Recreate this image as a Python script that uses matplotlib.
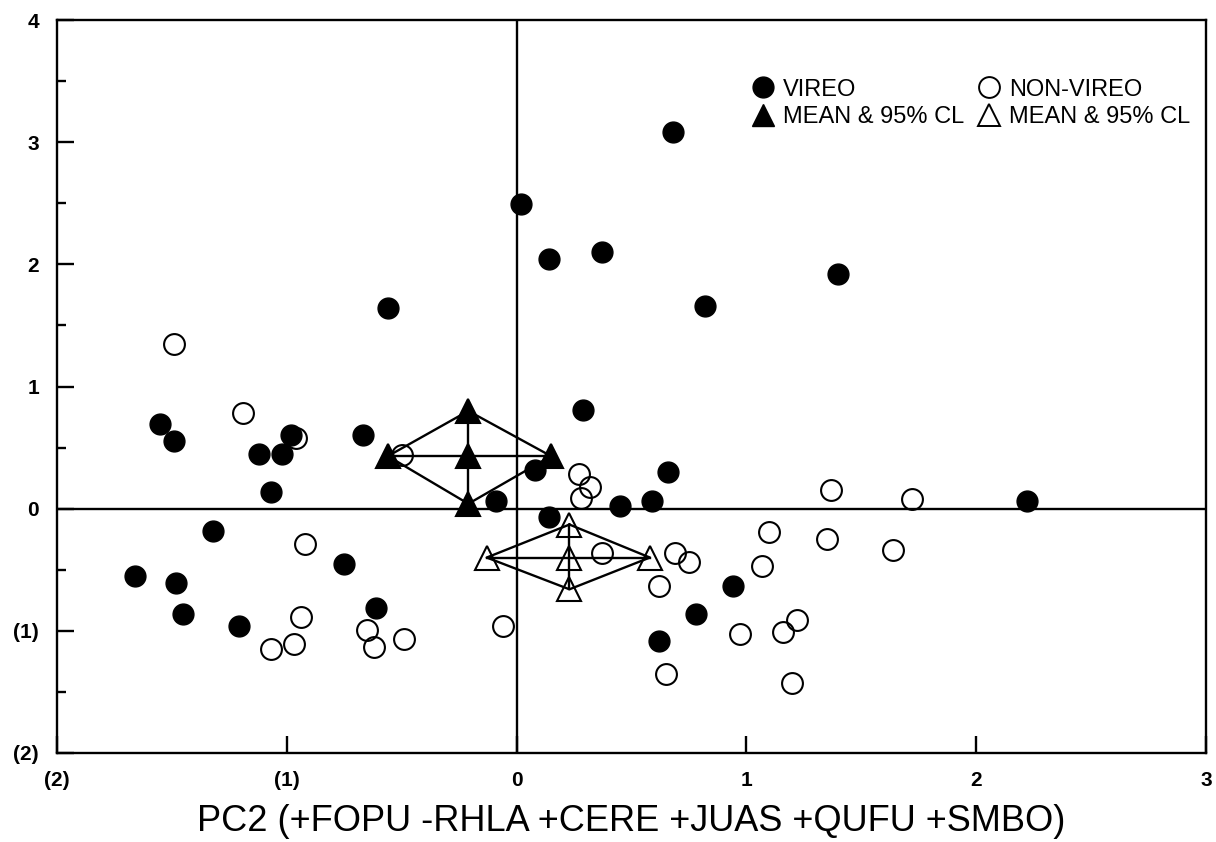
import matplotlib
matplotlib.use("Agg")
import matplotlib.pyplot as plt
from matplotlib.lines import Line2D
import numpy as np

plt.rcParams['font.family'] = ['Liberation Sans', 'DejaVu Sans']

# VIREO sites (filled circles)
vireo_x = [0.68, 0.02, 0.14, 0.37, 1.40, 0.82, -0.56, 0.29, -1.55, -1.49,
           -1.12, -1.02, -0.98, -0.67, -1.07, -1.32, -0.75, -1.66, -1.48, -1.45,
           -1.21, -0.61, -0.09, 0.08, 0.14, 0.45, 0.59, 0.66, 0.94, 0.78,
           0.62, 2.22]
vireo_y = [3.08, 2.49, 2.04, 2.10, 1.92, 1.66, 1.64, 0.81, 0.69, 0.55,
           0.45, 0.45, 0.60, 0.60, 0.14, -0.18, -0.45, -0.55, -0.61, -0.86,
           -0.96, -0.81, 0.06, 0.32, -0.07, 0.02, 0.06, 0.30, -0.63, -0.86,
           -1.08, 0.06]

# NON-VIREO sites (open circles)
non_x = [-1.49, -1.19, -0.96, -0.92, -0.94, -1.07, -0.97, -0.65, -0.62, -0.49,
         -0.06, -0.50, 0.27, 0.32, 0.28, 0.37, 0.69, 0.75, 0.62, 0.65,
         1.10, 1.07, 0.97, 1.16, 1.22, 1.20, 1.37, 1.72, 1.35, 1.64]
non_y = [1.35, 0.78, 0.58, -0.29, -0.89, -1.15, -1.11, -0.99, -1.13, -1.07,
         -0.96, 0.44, 0.28, 0.18, 0.09, -0.36, -0.36, -0.44, -0.63, -1.35,
         -0.19, -0.47, -1.03, -1.01, -0.91, -1.43, 0.15, 0.08, -0.25, -0.34]

# Means and 95% confidence limits
vireo_mean = (-0.21, 0.43)
vireo_cl_x = (-0.56, 0.15)
vireo_cl_y = (0.04, 0.80)
non_mean = (0.23, -0.40)
non_cl_x = (-0.13, 0.58)
non_cl_y = (-0.66, -0.13)

xticks = [-2, -1, 0, 1, 2, 3]
xticklabels = ['(2)', '(1)', '0', '1', '2', '3']
yticks = [-2, -1, 0, 1, 2, 3, 4]
yticklabels = ['(2)', '(1)', '0', '1', '2', '3', '4']

fig = plt.figure(figsize=(12.16, 8.42), dpi=100)
ax = fig.add_axes([57/1216, 1-753/842, (1206-57)/1216, (753-20)/842])
ax.set_xlim(-2, 3)
ax.set_ylim(-2, 4)

for s in ax.spines.values():
    s.set_linewidth(1.7)

ax.axhline(0, color='black', lw=1.7, zorder=1)
ax.axvline(0, color='black', lw=1.7, zorder=1)


def diamond(mean, clx, cly, mfc):
    mx, my = mean
    dx = [mx, clx[1], mx, clx[0], mx]
    dy = [cly[1], my, cly[0], my, cly[1]]
    ax.plot(dx, dy, color='black', lw=1.7, zorder=2)
    ax.plot([clx[0], clx[1]], [my, my], color='black', lw=1.7, zorder=2)
    ax.plot([mx, mx], [cly[0], cly[1]], color='black', lw=1.7, zorder=2)
    px = [mx, clx[0], clx[1], mx, mx]
    py = [my, my, my, cly[0], cly[1]]
    ax.plot(px, py, linestyle='none', marker='^', markersize=17,
            markerfacecolor=mfc, markeredgecolor='black', markeredgewidth=1.5,
            zorder=5)


diamond(vireo_mean, vireo_cl_x, vireo_cl_y, 'black')
diamond(non_mean, non_cl_x, non_cl_y, 'none')

ax.plot(non_x, non_y, linestyle='none', marker='o', markersize=15,
        markerfacecolor='none', markeredgecolor='black', markeredgewidth=1.5,
        zorder=3)
ax.plot(vireo_x, vireo_y, linestyle='none', marker='o', markersize=15,
        markerfacecolor='black', markeredgecolor='black', zorder=4)

ax.set_xticks(xticks)
ax.set_xticklabels(xticklabels)
ax.set_yticks(yticks)
ax.set_yticklabels(yticklabels)
ax.set_yticks(np.arange(-1.5, 4, 1.0), minor=True)
ax.tick_params(axis='both', which='major', direction='in', length=12.5,
               width=1.7, pad=13, labelsize=15)
ax.tick_params(axis='y', which='minor', direction='in', length=6.5, width=1.7)
for lab in ax.get_xticklabels() + ax.get_yticklabels():
    lab.set_fontweight('bold')

ax.set_xlabel('PC2 (+FOPU -RHLA +CERE +JUAS +QUFU +SMBO)', fontsize=26,
              labelpad=10)

handles = [
    Line2D([], [], linestyle='none', marker='o', markersize=15,
           markerfacecolor='black', markeredgecolor='black'),
    Line2D([], [], linestyle='none', marker='^', markersize=16,
           markerfacecolor='black', markeredgecolor='black'),
    Line2D([], [], linestyle='none', marker='o', markersize=15,
           markerfacecolor='none', markeredgecolor='black', markeredgewidth=1.4),
    Line2D([], [], linestyle='none', marker='^', markersize=16,
           markerfacecolor='none', markeredgecolor='black', markeredgewidth=1.4),
]
labels = ['VIREO', 'MEAN & 95% CL', 'NON-VIREO', 'MEAN & 95% CL']
leg = ax.legend(handles, labels, ncol=2, loc='upper left',
                bbox_to_anchor=(0.604, 0.920), frameon=False, fontsize=17,
                handlelength=1.0, handletextpad=0.35, columnspacing=0.55,
                labelspacing=0.22, borderpad=0, borderaxespad=0)

fig.savefig('out.png', dpi=100)
